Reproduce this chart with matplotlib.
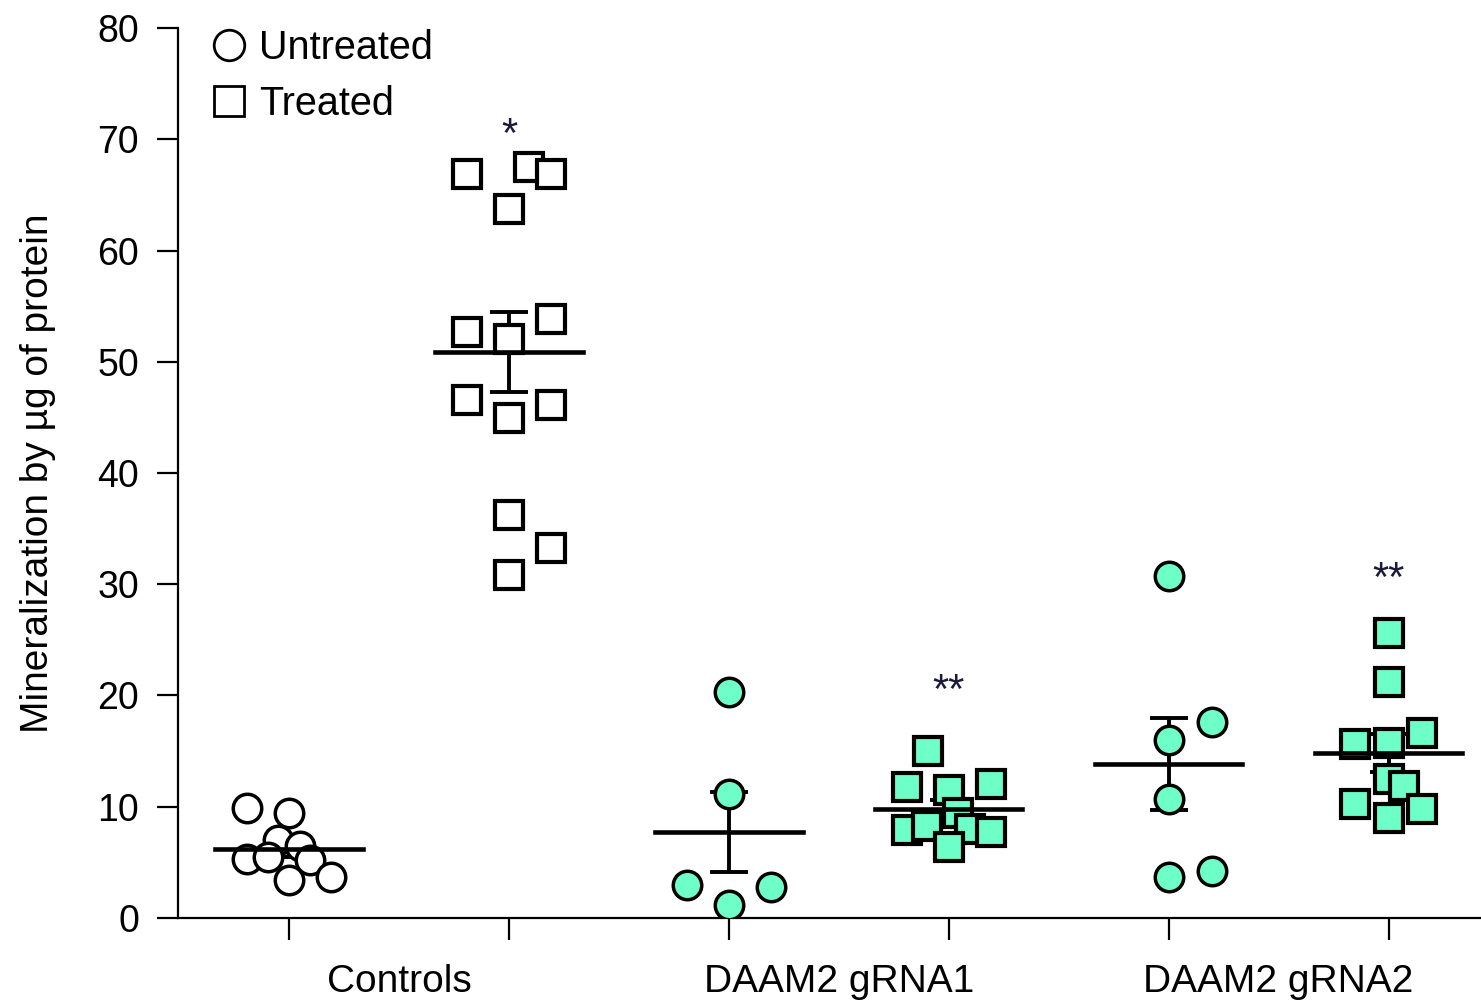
import numpy as np
import matplotlib
matplotlib.use("Agg")
import matplotlib.pyplot as plt
from matplotlib.lines import Line2D

plt.rcParams['font.family'] = ['Liberation Sans', 'DejaVu Sans']

# group centres on the x axis (0..5) and the category labels between pairs
group_names = ["Controls", "DAAM2 gRNA1", "DAAM2 gRNA2"]

# values (mineralization per ug protein)
ctrl_untreated = [9.9, 9.4, 7.0, 6.5, 5.3, 5.5, 5.2, 3.4, 3.7]
ctrl_treated = [66.9, 67.5, 66.9, 63.7, 52.7, 53.8, 52.0, 46.6, 46.1, 44.9, 36.2, 33.3, 30.8]
g1_untreated = [20.3, 11.1, 3.0, 2.8, 1.2]
g1_treated = [15.0, 11.8, 11.5, 12.0, 9.4, 7.9, 8.3, 8.0, 7.7, 6.4]
g2_untreated = [30.7, 17.6, 16.0, 10.7, 3.7, 4.2]
g2_treated = [25.6, 21.2, 16.6, 15.6, 15.7, 12.5, 11.9, 10.2, 9.8, 9.0]

# horizontal scatter of the points inside each column
ctrl_untreated_dx = [-0.19, 0.0, -0.05, 0.05, -0.19, -0.095, 0.095, 0.0, 0.19]
ctrl_treated_dx = [-0.19, 0.09, 0.19, 0.0, -0.19, 0.19, 0.0, -0.19, 0.19, 0.0, 0.0, 0.19, 0.0]
g1_untreated_dx = [0.0, 0.0, -0.19, 0.19, 0.0]
g1_treated_dx = [-0.095, -0.19, 0.0, 0.19, 0.04, -0.19, -0.1, 0.095, 0.19, 0.0]
g2_untreated_dx = [0.0, 0.195, 0.0, 0.0, 0.0, 0.195]
g2_treated_dx = [0.0, 0.0, 0.15, -0.155, 0.0, 0.0, 0.07, -0.155, 0.15, 0.0]

stars = ["", "*", "", "**", "", "**"]
star_y = [0, 70.3, 0, 20.3, 0, 30.4]

teal = "#6EFFC8"

series = [
    (ctrl_untreated, ctrl_untreated_dx, "o", "white"),
    (ctrl_treated, ctrl_treated_dx, "s", "white"),
    (g1_untreated, g1_untreated_dx, "o", teal),
    (g1_treated, g1_treated_dx, "s", teal),
    (g2_untreated, g2_untreated_dx, "o", teal),
    (g2_treated, g2_treated_dx, "s", teal),
]

fig = plt.figure(figsize=(14.81, 10.01), dpi=100)
ax = fig.add_axes([0.1202, 0.083, 0.8798, 0.889])

for i, (vals, dx, mk, fc) in enumerate(series):
    vals = np.array(vals)
    xs = i + np.array(dx)
    if mk == "s":
        ax.plot(xs, vals, linestyle="none", marker=mk, markersize=19.5,
                markerfacecolor=fc, markeredgecolor="black",
                markeredgewidth=3.0, zorder=3)
    else:
        ax.plot(xs, vals, linestyle="none", marker=mk, markersize=20.5,
                markerfacecolor=fc, markeredgecolor="black",
                markeredgewidth=2.5, zorder=3)
    m = vals.mean()
    sem = vals.std(ddof=1) / np.sqrt(len(vals))
    ax.plot([i - 0.335, i + 0.335], [m, m], color="black", lw=3.3, zorder=4)
    ax.errorbar(i, m, yerr=sem, color="black", lw=2.8, capsize=14,
                capthick=2.8, zorder=2)
    if stars[i]:
        ax.text(i, star_y[i], stars[i], ha="center", va="center",
                fontsize=30, color="#1a1a3a")

ax.set_xlim(-0.505, 5.42)
ax.set_ylim(0, 80)
ax.set_yticks(np.arange(0, 81, 10))
ax.set_xticks(range(6))
ax.set_xticklabels([""] * 6)
ax.set_xticks([0.5, 2.5, 4.5], minor=True)
ax.set_xticklabels(group_names, minor=True, fontsize=28)
ax.tick_params(axis="x", which="major", length=16, width=1.6, direction="out")
ax.tick_params(axis="x", which="minor", length=0, pad=33)
ax.tick_params(axis="y", length=15, width=1.6, labelsize=27, pad=13)

for s in ["top", "right"]:
    ax.spines[s].set_visible(False)
ax.spines["left"].set_linewidth(1.6)
ax.spines["bottom"].set_linewidth(1.6)

ax.set_ylabel("Mineralization by µg of protein", fontsize=28, labelpad=30)

handles = [
    Line2D([], [], linestyle="none", marker="o", markersize=22,
           markerfacecolor="white", markeredgecolor="black", markeredgewidth=2),
    Line2D([], [], linestyle="none", marker="s", markersize=21,
           markerfacecolor="white", markeredgecolor="black", markeredgewidth=2),
]
ax.legend(handles, ["Untreated", "Treated"], loc="upper left",
          bbox_to_anchor=(0.0, 1.03), frameon=False, fontsize=28.5,
          handletextpad=0.15, labelspacing=0.45, borderpad=0.2,
          handlelength=1.2)

fig.savefig("out.png", dpi=100)
